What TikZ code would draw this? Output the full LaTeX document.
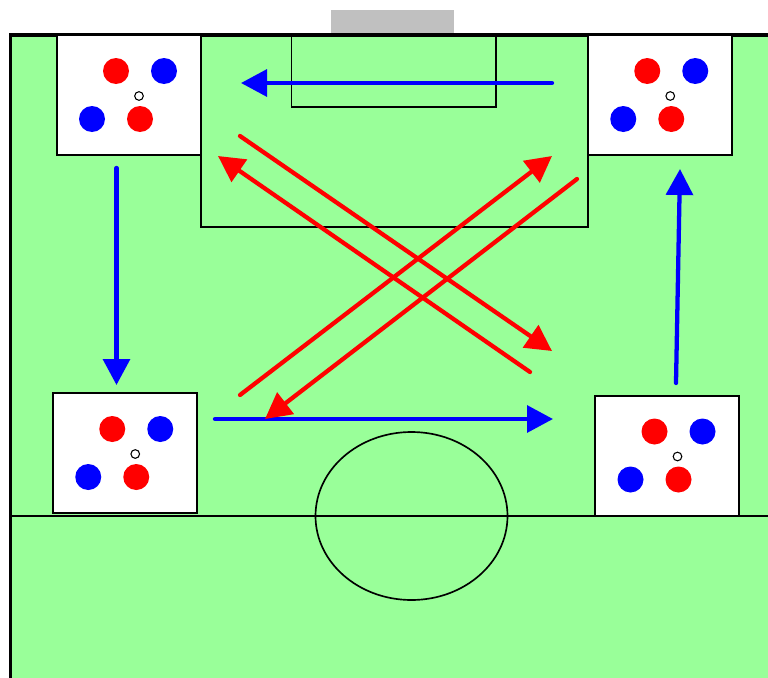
\documentclass[tikz,border=0pt]{standalone}
\usepackage{tikz}
\usepackage{xcolor}
\usetikzlibrary{arrows.meta}
\definecolor{pitch}{HTML}{99FF99}
\definecolor{goalgray}{HTML}{C0C0C0}

\begin{document}
\begin{tikzpicture}[x=0.75pt,y=-0.75pt]%
  \tikzstyle{linen}=[draw=black,line width=1.25pt]
  \tikzstyle{grid}=[rectangle,draw=black,fill=white,line width=1.5pt,inner sep=0,minimum width=108pt,minimum height=90pt]
  \tikzstyle{plr}=[circle,fill=red,inner sep=0,minimum size=19.5pt]
  \tikzstyle{plb}=[circle,fill=blue,inner sep=0,minimum size=19.5pt]
  \tikzstyle{ball}=[circle,draw=black,fill=white,line width=0.8pt,inner sep=0,minimum size=6.5pt]
  \tikzstyle{pass}=[line width=3.2pt,line cap=round,-{Triangle[length=19.5pt,width=20pt]}]
  \useasboundingbox (0,0) rectangle (768,678);
  \clip (0,0) rectangle (768,678);
  % pitch
  \fill[pitch] (10,35) rectangle (780,690);
  \fill[goalgray] (331,10) rectangle (454,34);
  \draw[linen,line width=2.5pt] (780,35) -- (10.5,35) -- (10.5,690);
  \draw[linen] (201,35) rectangle (588,227);
  \draw[linen] (291.5,35) rectangle (496,107);
  \draw[linen] (10,515.7) -- (780,515.7);
  \draw[linen] (411.5,516) ellipse (96 and 84);
  % grids
  \foreach \g/\x/\y in {a/128.5/95,b/659.75/95,c/124.75/453,d/667/455.5}{
    \node(\g)[grid] at (\x,\y){};
    \node(\g r1)[plr] at (\x-12.5,\y-24){};
    \node(\g b1)[plb] at (\x+35.5,\y-24){};
    \node(\g b2)[plb] at (\x-36.5,\y+24){};
    \node(\g r2)[plr] at (\x+11.5,\y+24){};
    \node(\g o)[ball] at (\x+10.5,\y+1){};
  }
  % passes
  \coordinate(bs1) at (552,83);    \coordinate(be1) at (241,83);
  \coordinate(bs2) at (116.5,168); \coordinate(be2) at (116.5,385);
  \coordinate(bs3) at (215,419);   \coordinate(be3) at (553,419);
  \coordinate(bs4) at (676,383);   \coordinate(be4) at (680,169);
  \coordinate(rs1) at (240,136);   \coordinate(re1) at (552,351);
  \coordinate(rs2) at (530,372);   \coordinate(re2) at (218,156);
  \coordinate(rs3) at (240,395);   \coordinate(re3) at (552,156);
  \coordinate(rs4) at (577,179);   \coordinate(re4) at (265,419);
  \foreach \p in {1,2,3,4}{
    \draw[pass,draw=blue,fill=blue] (bs\p) -- (be\p);
  }
  \foreach \p in {1,2,3,4}{
    \draw[pass,draw=red,fill=red] (rs\p) -- (re\p);
  }
\end{tikzpicture}
\end{document}
